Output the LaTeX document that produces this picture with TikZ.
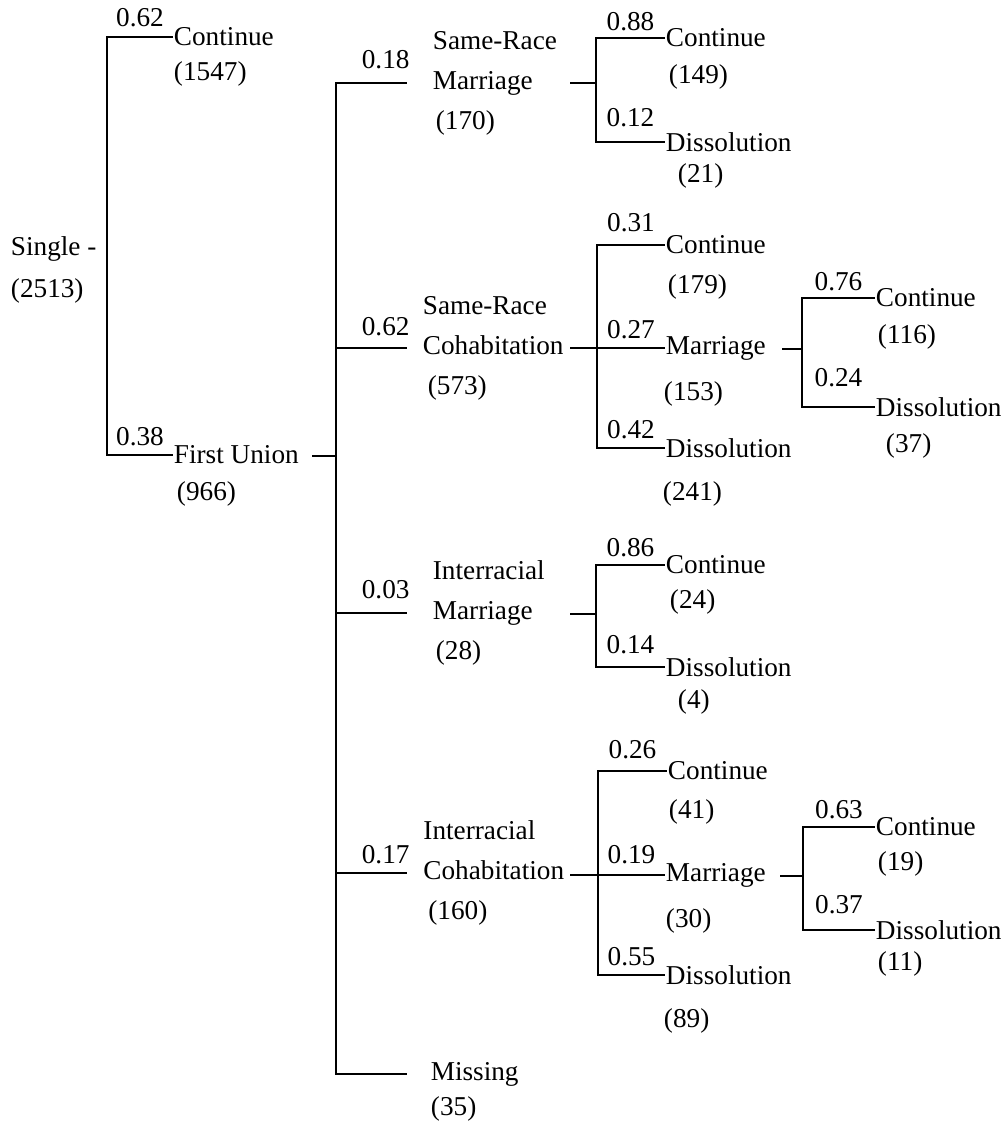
\documentclass[tikz,border=0pt]{standalone}
\usepackage{fontspec}
\setmainfont{Liberation Serif}

\begin{document}
\begin{tikzpicture}[x=0.02cm, y=-0.02cm, line width=1.1pt,
    every node/.style={font=\fontsize{15.5}{22.7}\selectfont, inner sep=0pt},
    leaf/.style={anchor=west},
    cnt/.style={anchor=base west},
    grp/.style={anchor=west, align=left, inner xsep=14.2pt}]
  \useasboundingbox (0,0) rectangle (1003,1126);
  % root
  \node[cnt] (single) at (10,255) {Single -};
  \node[cnt] (n2513) at (10,297) {(2513)};
  \coordinate (r0) at (107,246);
  \node[leaf] (cont) at (173,37) {Continue};
  \node[cnt] (n1547) at (173,80) {(1547)};
  \node[leaf] (union) at (173,455) {First Union};
  \node[cnt] (n966) at (176,500) {(966)};
  \draw (r0) |- (cont.west) node[pos=0.75, above=5.1pt] {0.62};
  \draw (r0) |- (union.west) node[pos=0.75, above=4.5pt] {0.38};
  % first union
  \coordinate (s1) at (312,456);
  \coordinate (f1) at (336,456);
  \node[grp] (srm) at (407,83) {Same-Race\\Marriage\\\hspace*{1.7pt}(170)};
  \node[grp, inner xsep=8.5pt] (src) at (407,348) {Same-Race\\Cohabitation\\\hspace*{2.8pt}(573)};
  \node[grp] (irm) at (407,613) {Interracial\\Marriage\\\hspace*{1.7pt}(28)};
  \node[grp, inner xsep=8.8pt] (irc) at (407,873) {Interracial\\Cohabitation\\\hspace*{2.8pt}(160)};
  \node[leaf, inner xsep=13pt] (miss) at (407,1074) {Missing};
  \node[cnt] (n35) at (430,1115) {(35)};
  \draw (s1) -- (f1);
  \draw (f1) |- (srm.west) node[pos=0.85, above=7.4pt] {0.18};
  \draw (f1) |- (src.west) node[pos=0.85, above=6.2pt] {0.62};
  \draw (f1) |- (irm.west) node[pos=0.85, above=7.4pt] {0.03};
  \draw (f1) |- (irc.west) node[pos=0.85, above=4.5pt] {0.17};
  \draw (f1) |- (miss.west);
  % same-race marriage
  \coordinate (s2a) at (570,83);
  \coordinate (f2a) at (596,83);
  \node[leaf] (srmC) at (665,38) {Continue};
  \node[cnt] (n149) at (668,83) {(149)};
  \node[leaf] (srmD) at (665,142) {Dissolution};
  \node[cnt] (n21) at (677,182) {(21)};
  \draw (s2a) -- (f2a);
  \draw (f2a) |- (srmC.west) node[pos=0.75, above=3.4pt] {0.88};
  \draw (f2a) |- (srmD.west) node[pos=0.75, above=7.9pt] {0.12};
  % same-race cohabitation
  \coordinate (s2b) at (570,348);
  \coordinate (f2b) at (597,348);
  \node[leaf] (srcC) at (665,245) {Continue};
  \node[cnt] (n179) at (667,293) {(179)};
  \node[leaf] (srcM) at (665,348) {Marriage};
  \node[cnt] (n153) at (663,400) {(153)};
  \node[leaf] (srcD) at (665,448) {Dissolution};
  \node[cnt] (n241) at (662,500) {(241)};
  \draw (s2b) -- (f2b);
  \draw (f2b) |- (srcC.west) node[pos=0.75, above=6.8pt] {0.31};
  \draw (f2b) |- (srcM.west) node[pos=0.75, above=4.5pt] {0.27};
  \draw (f2b) |- (srcD.west) node[pos=0.75, above=4.5pt] {0.42};
  \coordinate (s3b) at (782,349);
  \coordinate (f3b) at (802,349);
  \node[leaf] (srcMC) at (875,298) {Continue};
  \node[cnt] (n116) at (877,343) {(116)};
  \node[leaf] (srcMD) at (875,407) {Dissolution};
  \node[cnt] (n37) at (885,452) {(37)};
  \draw (s3b) -- (f3b);
  \draw (f3b) |- (srcMC.west) node[pos=0.75, above=3.4pt] {0.76};
  \draw (f3b) |- (srcMD.west) node[pos=0.75, above=10.8pt] {0.24};
  % interracial marriage
  \coordinate (s2c) at (570,614);
  \coordinate (f2c) at (596,614);
  \node[leaf] (irmC) at (665,565) {Continue};
  \node[cnt] (n24) at (669,608) {(24)};
  \node[leaf] (irmD) at (665,667) {Dissolution};
  \node[cnt] (n4) at (677,708) {(4)};
  \draw (s2c) -- (f2c);
  \draw (f2c) |- (irmC.west) node[pos=0.75, above=4pt] {0.86};
  \draw (f2c) |- (irmD.west) node[pos=0.75, above=6.8pt] {0.14};
  % interracial cohabitation
  \coordinate (s2d) at (570,875);
  \coordinate (f2d) at (598,875);
  \node[leaf] (ircC) at (667,771) {Continue};
  \node[cnt] (n41) at (668,818) {(41)};
  \node[leaf] (ircM) at (665,875) {Marriage};
  \node[cnt] (n30) at (665,927) {(30)};
  \node[leaf] (ircD) at (665,975) {Dissolution};
  \node[cnt] (n89) at (663,1027) {(89)};
  \draw (s2d) -- (f2d);
  \draw (f2d) |- (ircC.west) node[pos=0.75, above=6.2pt] {0.26};
  \draw (f2d) |- (ircM.west) node[pos=0.75, above=5.7pt] {0.19};
  \draw (f2d) |- (ircD.west) node[pos=0.75, above=4.5pt] {0.55};
  \coordinate (s3d) at (780,876);
  \coordinate (f3d) at (803,876);
  \node[leaf] (ircMC) at (875,827) {Continue};
  \node[cnt] (n19) at (877,870) {(19)};
  \node[leaf] (ircMD) at (875,930) {Dissolution};
  \node[cnt] (n11) at (877,970) {(11)};
  \draw (s3d) -- (f3d);
  \draw (f3d) |- (ircMC.west) node[pos=0.75, above=4pt] {0.63};
  \draw (f3d) |- (ircMD.west) node[pos=0.75, above=8.5pt] {0.37};
\end{tikzpicture}
\end{document}
